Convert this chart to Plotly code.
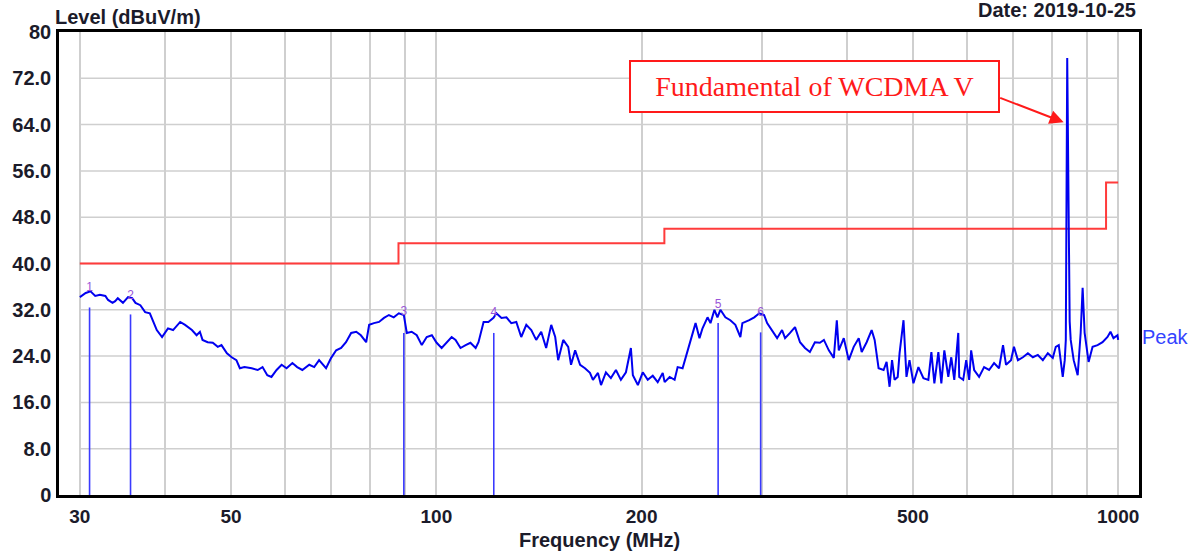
import math
import plotly.graph_objects as go

# ---------------- data ----------------
freq_mhz = [
    30.0, 30.6, 31.1, 31.6, 32.1, 32.7, 33.0, 33.5, 33.8, 34.1, 34.7, 35.3, 35.8, 36.2, 36.8,
    37.4, 38.0, 38.4, 38.9, 39.6, 40.0, 40.4, 41.1, 42.1, 42.8, 43.8, 44.5, 45.0, 45.4, 46.2,
    47.0, 47.8, 48.4, 49.3, 50.1, 50.9, 51.5, 52.3, 53.6, 54.7, 55.6, 56.5, 57.3, 58.3, 59.3,
    60.3, 61.5, 62.5, 63.6, 65.1, 66.2, 67.3, 68.9, 70.1, 71.3, 72.5, 73.7, 75.0, 76.3, 77.5,
    78.9, 79.7, 81.0, 82.4, 83.8, 85.2, 86.6, 88.1, 89.6, 90.5, 92.0, 93.6, 95.2, 96.8, 98.5,
    100.1, 101.8, 103.5, 105.3, 106.7, 108.5, 110.4, 112.2, 114.2, 115.3, 117.3, 119.2, 121.3, 122.5, 124.6,
    126.7, 128.8, 131.0, 133.2, 135.5, 137.8, 140.1, 142.5, 144.9, 147.4, 149.4, 150.9, 153.5, 156.1, 157.6,
    159.8, 162.5, 165.2, 168.0, 169.7, 172.6, 174.4, 177.3, 180.3, 183.4, 186.5, 189.7, 192.9, 194.2, 197.5,
    200.8, 204.2, 207.7, 211.2, 214.8, 216.2, 219.9, 223.6, 225.9, 229.7, 232.0, 235.2, 237.6, 240.0, 243.2,
    245.7, 249.9, 252.4, 255.8, 258.4, 261.0, 265.4, 269.9, 274.5, 279.2, 281.1, 287.7, 292.6, 297.6, 302.5,
    305.6, 310.8, 316.1, 321.4, 324.7, 330.2, 335.8, 341.5, 347.3, 353.1, 359.1, 365.2, 370.2, 376.4, 382.8,
    386.7, 389.3, 395.9, 402.6, 409.4, 416.4, 420.6, 427.7, 435.0, 439.4, 445.3, 452.9, 457.5, 462.1, 466.0,
    470.0, 475.0, 478.0, 484.4, 489.3, 494.3, 500.9, 509.4, 518.1, 526.8, 532.2, 537.6, 544.9, 550.4, 556.0,
    563.5, 569.2, 575.0, 582.8, 584.7, 592.6, 598.6, 604.7, 608.7, 614.9, 625.3, 635.9, 646.7, 657.7, 668.8,
    677.9, 684.8, 696.4, 703.4, 712.9, 725.0, 737.3, 749.8, 762.5, 775.5, 788.6, 802.0, 810.1, 818.3, 823.9,
    829.4, 835.0, 838.0, 842.0, 845.0, 849.0, 852.0, 860.6, 872.3, 881.1, 887.0, 893.0, 905.1, 917.3, 932.9,
    948.7, 964.7, 974.5, 984.4, 997.7, 1000.0,
]
level_dbuv = [
    34.2, 34.9, 35.2, 34.4, 34.6, 34.4, 33.7, 33.2, 33.5, 34.0, 33.2, 34.2, 34.0, 33.2, 32.8,
    31.6, 31.4, 30.2, 28.5, 27.3, 28.0, 28.8, 28.5, 29.9, 29.4, 28.5, 27.6, 28.2, 26.8, 26.4,
    26.3, 25.6, 25.9, 24.5, 23.8, 23.3, 21.9, 22.1, 21.9, 21.6, 22.1, 20.7, 20.4, 21.6, 22.5,
    21.9, 22.8, 22.1, 21.6, 22.5, 22.1, 23.3, 21.9, 23.7, 25.0, 25.4, 26.4, 28.0, 28.2, 27.6,
    26.4, 29.4, 29.7, 29.9, 30.6, 31.1, 30.7, 31.4, 31.1, 28.0, 28.2, 27.6, 25.9, 27.3, 27.6,
    26.3, 25.4, 26.3, 27.3, 26.8, 25.4, 25.9, 26.3, 25.4, 26.4, 29.9, 29.9, 30.6, 31.4, 30.6,
    30.7, 29.7, 29.9, 27.3, 29.4, 28.5, 26.8, 28.2, 25.4, 29.4, 27.3, 23.3, 26.8, 25.6, 22.5,
    25.0, 22.5, 21.9, 21.1, 19.9, 21.1, 19.0, 21.2, 20.2, 21.6, 19.9, 21.2, 25.4, 20.7, 19.0,
    21.2, 19.9, 20.6, 19.5, 21.1, 19.5, 20.4, 19.9, 22.1, 21.9, 23.7, 25.9, 27.6, 29.7, 27.1,
    28.8, 30.7, 29.7, 32.0, 30.7, 32.0, 30.7, 30.2, 29.4, 27.3, 29.7, 30.2, 30.7, 31.4, 31.1,
    29.7, 28.5, 27.1, 28.5, 27.1, 28.0, 29.0, 26.4, 25.4, 24.7, 26.4, 26.3, 26.8, 25.0, 23.7,
    30.2, 25.0, 27.1, 23.3, 25.6, 27.1, 24.7, 26.4, 28.5, 26.8, 21.9, 21.6, 23.0, 18.7, 23.3,
    19.9, 20.4, 24.5, 30.2, 20.4, 23.3, 19.3, 22.1, 20.2, 19.9, 24.7, 19.3, 24.7, 19.3, 25.0,
    20.4, 23.8, 19.9, 28.0, 20.4, 19.9, 23.3, 19.9, 25.0, 21.6, 20.4, 22.1, 21.6, 22.8, 21.9,
    25.9, 22.5, 23.3, 25.6, 23.3, 23.8, 24.5, 23.8, 24.2, 23.3, 24.5, 23.7, 25.6, 25.9, 23.3,
    20.4, 23.3, 26.8, 75.5, 49.7, 30.0, 26.8, 23.3, 20.7, 28.0, 35.8, 28.0, 23.0, 25.6, 25.9,
    26.4, 27.3, 28.2, 27.1, 27.6, 26.8,
]

# limit line (step edges)
limit_freq = [30, 88, 216, 960, 1000]
limit_level = [40.0, 43.5, 46.0, 54.0, 54.0]

# marker lines
marker_ids = ["1", "2", "3", "4", "5", "6"]
marker_freq = [31.0, 35.6, 89.6, 121.4, 259.0, 299.0]
marker_level = [32.4, 31.2, 28.0, 28.0, 29.7, 28.1]
marker_label_level = [35.7, 34.4, 31.6, 31.4, 32.8, 31.4]

# fundamental annotation target
fund_freq = 832.0
fund_level = 64.4

# axes
x_grid = [30, 40, 50, 60, 70, 80, 90, 100, 200, 300, 400, 500, 600, 700, 800, 900, 1000]
x_labeled = [30, 50, 100, 200, 500, 1000]
y_ticks = [0, 8, 16, 24, 32, 40, 48, 56, 64, 72, 80]
y_ticktext = ["0", "8.0", "16.0", "24.0", "32.0", "40.0", "48.0", "56.0", "64.0", "72.0", "80"]
x_range_mhz = [27.96, 1073.0]

# ---------------- figure ----------------
BOLD = "Liberation Sans, Arial, sans-serif"
TXT = "#1b1b2a"

fig = go.Figure()

# horizontal grid lines (span 30..1000 MHz only)
gx, gy = [], []
for v in y_ticks[1:-1]:
    gx += [x_grid[0], x_grid[-1], None]
    gy += [v, v, None]
fig.add_trace(go.Scatter(x=gx, y=gy, mode="lines", line=dict(color="#cfcfcf", width=1.5),
                         hoverinfo="skip", showlegend=False))

# limit line
fig.add_trace(go.Scatter(x=limit_freq, y=limit_level, mode="lines", line_shape="hv",
                         line=dict(color="#ff3b3b", width=2), showlegend=False))

# marker lines
mx, my = [], []
for f, l in zip(marker_freq, marker_level):
    mx += [f, f, None]
    my += [0, l, None]
fig.add_trace(go.Scatter(x=mx, y=my, mode="lines", line=dict(color="#3a3aff", width=1.6),
                         hoverinfo="skip", showlegend=False))

# measured trace
fig.add_trace(go.Scatter(x=freq_mhz, y=level_dbuv, mode="lines",
                         line=dict(color="#0000f0", width=2), showlegend=False))

# marker labels
fig.add_trace(go.Scatter(x=marker_freq, y=marker_label_level, mode="text", text=marker_ids,
                         textfont=dict(family="Liberation Sans, Arial", size=12, color="#9a55d8"),
                         textposition="middle center", showlegend=False))

fig.update_xaxes(
    type="log", range=[math.log10(x_range_mhz[0]), math.log10(x_range_mhz[1])],
    tickvals=x_grid, ticktext=[str(v) if v in x_labeled else "" for v in x_grid],
    showgrid=True, gridcolor="#cfcfcf", gridwidth=1.5,
    showline=True, linecolor="black", linewidth=2.5, mirror=True,
    ticks="", ticklabelstandoff=2,
    tickfont=dict(family=BOLD, size=19, color=TXT, weight="bold"),
    zeroline=False,
)
fig.update_yaxes(
    range=[0, 80], tickvals=y_ticks, ticktext=y_ticktext,
    showgrid=False, showline=True, linecolor="black", linewidth=2.5, mirror=True,
    ticks="", ticklabelstandoff=1,
    tickfont=dict(family=BOLD, size=20, color=TXT, weight="bold"),
    zeroline=False,
)

annotations = [
    dict(text="Level (dBuV/m)", xref="paper", yref="paper", x=-0.006, y=1.033,
         xanchor="left", yanchor="middle", showarrow=False,
         font=dict(family=BOLD, size=20, color=TXT, weight="bold")),
    dict(text="Date: 2019-10-25", xref="paper", yref="paper", x=0.999, y=1.047,
         xanchor="right", yanchor="middle", showarrow=False,
         font=dict(family=BOLD, size=20, color=TXT, weight="bold")),
    dict(text="Frequency (MHz)", xref="paper", yref="paper", x=0.5, y=-0.097,
         xanchor="center", yanchor="middle", showarrow=False,
         font=dict(family=BOLD, size=20, color=TXT, weight="bold")),
    dict(text="Peak", xref="paper", yref="y", x=1.001, y=level_dbuv[-1] + 0.5,
         xanchor="left", yanchor="middle", showarrow=False,
         font=dict(family="Liberation Sans, Arial", size=20, color="#3344ff")),
    dict(text="Fundamental of WCDMA V", xref="paper", yref="paper", x=0.6994, y=0.8823,
         xanchor="center", yanchor="middle", showarrow=False,
         width=367, height=49, borderpad=0, bordercolor="#ff1a1a", borderwidth=2,
         bgcolor="white",
         font=dict(family="Liberation Serif, Times New Roman, serif", size=28, color="#ff1a1a")),
    dict(text="", x=math.log10(fund_freq), y=fund_level, xref="x", yref="y",
         showarrow=True, ax=-65, ay=-25, axref="pixel", ayref="pixel",
         arrowhead=2, arrowsize=1.4, arrowwidth=2, arrowcolor="#ff1a1a"),
]

fig.update_layout(
    width=1200, height=554,
    margin=dict(l=53, r=61, t=32, b=59),
    paper_bgcolor="white", plot_bgcolor="white",
    showlegend=False,
    annotations=annotations,
)

fig.write_html("out.html", config={"displayModeBar": False},
               post_script="document.body.style.margin='0px';")
